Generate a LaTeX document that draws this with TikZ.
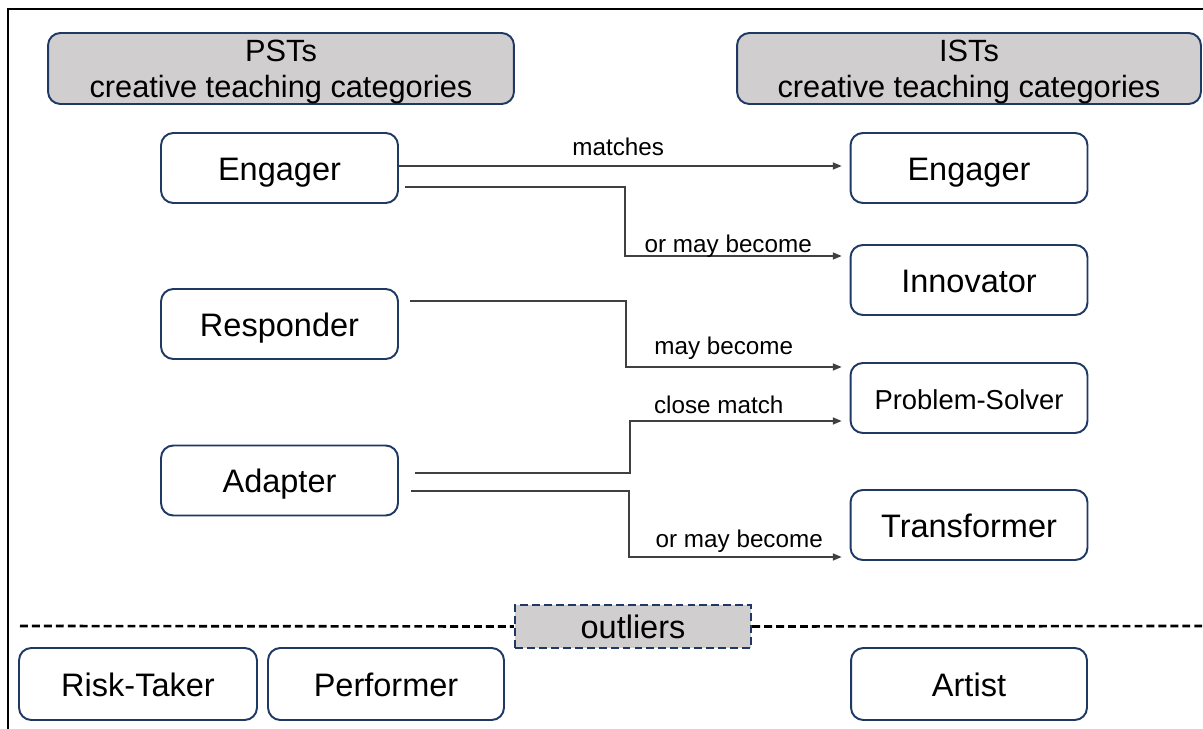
\documentclass[tikz,border=0pt]{standalone}
\usepackage{fontspec}
\setmainfont{Liberation Sans}
\usetikzlibrary{arrows.meta}
\definecolor{navy}{HTML}{1F3864}
\definecolor{boxgray}{HTML}{D0CECE}

\begin{document}
\begin{tikzpicture}[x=0.02cm,y=-0.02cm,
    catbox/.style={draw=navy,line width=1.1pt,rounded corners=7pt,fill=white,minimum width=4.74cm,minimum height=1.4cm,text height=14pt,text depth=0pt,font=\fontsize{18.5}{20}\selectfont},
    headbox/.style={draw=navy,line width=1.1pt,rounded corners=7pt,fill=boxgray,minimum height=1.42cm,align=center,text depth=0pt,font=\fontsize{17.5}{20.4}\selectfont},
    link/.style={draw=black!75,line width=0.8pt,shorten >=4.5pt,-{Triangle[length=5pt,width=4pt]}},
    lbl/.style={font=\fontsize{13.8}{16}\selectfont,inner sep=2pt,text=black}]
    \useasboundingbox (0,0) rectangle (1203,729);
    % Frame
    \draw[line width=0.6pt] (8,729) -- (8,9) -- (1203,9);
    % Headers
    \node[headbox,minimum width=9.32cm] (psth) at (281,68.5) {PSTs\\creative teaching categories};
    \node[headbox,minimum width=9.28cm] (isth) at (969,68.5) {ISTs\\creative teaching categories};
    % PST categories
    \node[catbox] (engl) at (279.5,168) {Engager};
    \node[catbox] (resp) at (279.5,324) {Responder};
    \node[catbox] (adap) at (279.5,480.5) {Adapter};
    % IST categories
    \node[catbox] (engr) at (969,168) {Engager};
    \node[catbox] (innov) at (969,280) {Innovator};
    \node[catbox,text height=13pt,font=\fontsize{15.6}{17}\selectfont] (prob) at (969,398) {Problem-Solver};
    \node[catbox] (trans) at (969,525) {Transformer};
    % Arrows
    \draw[link] ([shift={(0,-2)}]engl.east) -- ([shift={(0,-2)}]engr.west) node[lbl,midway,above,shift={(-6,-6)}] {matches};
    \draw[link] ([shift={(6,19)}]engl.east) -- ++(220,0) |- ([shift={(0,-24)}]innov.west) node[lbl,pos=0.75,above,shift={(-9,6)}] {or may become};
    \draw[link] ([shift={(11,-23)}]resp.east) -- ++(216,0) |- ([shift={(0,-31)}]prob.west) node[lbl,pos=0.75,above,shift={(-14,-3)}] {may become};
    \draw[link] ([shift={(16,-7.5)}]adap.east) -- ++(215,0) |- ([shift={(0,23)}]prob.west) node[lbl,pos=0.75,above,shift={(-21,-3)}] {close match};
    \draw[link] ([shift={(12,10.5)}]adap.east) -- ++(218,0) |- ([shift={(0,32)}]trans.west) node[lbl,pos=0.75,above] {or may become};
    % Outliers
    \node[draw=navy,line width=1.4pt,dash pattern=on 4.5pt off 2.3pt,fill=boxgray,minimum width=4.72cm,minimum height=0.86cm,text height=14pt,text depth=0pt,font=\fontsize{18.5}{20}\selectfont] (outl) at (633,626.5) {outliers};
    \coordinate (dl) at (20,626);
    \coordinate (dr) at (1203,626);
    \draw[line width=1.5pt,dash pattern=on 4.5pt off 2.3pt] (dl) -- (outl.west);
    \draw[line width=1.5pt,dash pattern=on 4.5pt off 2.3pt] (outl.east) -- (dr);
    \node[catbox,minimum width=4.76cm,minimum height=1.44cm] (risk) at (138,684) {Risk-Taker};
    \node[catbox,minimum width=4.72cm,minimum height=1.44cm] (perf) at (386,684) {Performer};
    \node[catbox,minimum width=4.72cm,minimum height=1.44cm] (art) at (969,684) {Artist};
\end{tikzpicture}
\end{document}
